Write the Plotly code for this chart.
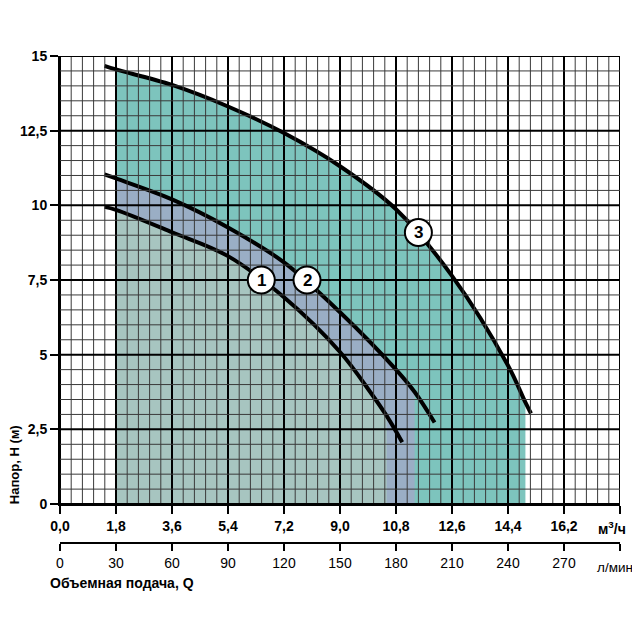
import numpy as np
import plotly.graph_objects as go

# pump curves, Q in m3/h, H in m
q1 = [1.43, 1.8, 3.6, 5.4, 7.2, 9.0, 10.0, 10.5, 11.0]
h1 = [9.95, 9.85, 9.1, 8.3, 6.92, 5.09, 3.71, 2.95, 2.07]

q2 = [1.43, 1.8, 3.6, 5.4, 7.2, 9.0, 10.8, 11.4, 12.04]
h2 = [11.04, 10.9, 10.2, 9.26, 8.09, 6.42, 4.5, 3.75, 2.73]

q3 = [1.43, 1.8, 3.6, 5.4, 7.2, 9.0, 10.8, 12.6, 14.4, 14.96, 15.14]
h3 = [14.67, 14.55, 14.03, 13.31, 12.42, 11.31, 9.87, 7.64, 4.64, 3.4, 3.03]

# curve labels
labels = ["1", "2", "3"]
lab_q = [6.47, 7.94, 11.52]
lab_h = [7.5, 7.5, 9.09]

# axis ticks
x_ticks = [0, 1.8, 3.6, 5.4, 7.2, 9.0, 10.8, 12.6, 14.4, 16.2]
x_text = ["0,0", "1,8", "3,6", "5,4", "7,2", "9,0", "10,8", "12,6", "14,4", "16,2"]
lpm_ticks = [0, 30, 60, 90, 120, 150, 180, 210, 240, 270]
lpm_text = ["0", "30", "60", "90", "120", "150", "180", "210", "240", "270"]
y_ticks = [0, 2.5, 5, 7.5, 10, 12.5, 15]
y_text = ["0", "2,5", "5", "7,5", "10", "12,5", "15"]

fill_colors = ["#7dc4bd", "#9aaec5", "#a7c5c0"]

fig = go.Figure()

# shaded working ranges (from 1.8 up to where the shading stops)
for q, h, col in [(q3, h3, fill_colors[0]), (q2, h2, fill_colors[1]), (q1, h1, fill_colors[2])]:
    fig.add_trace(go.Scatter(
        x=q[1:-1], y=h[1:-1], mode="lines", fill="tozeroy",
        fillcolor=col, line=dict(width=0, shape="spline"),
        hoverinfo="skip", showlegend=False,
    ))

for q, h in [(q1, h1), (q2, h2), (q3, h3)]:
    fig.add_trace(go.Scatter(
        x=q, y=h, mode="lines",
        line=dict(color="black", width=4, shape="spline"),
        showlegend=False,
    ))

# dummy trace so the l/min axis is drawn
fig.add_trace(go.Scatter(x=[0], y=[0], xaxis="x2", yaxis="y", mode="markers",
                         marker=dict(size=1, opacity=0), hoverinfo="skip", showlegend=False))

# grid on top of the shading
for i, xv in enumerate(np.arange(0, 18.001, 0.36)):
    major = i % 5 == 0
    fig.add_shape(type="line", xref="x", yref="y", x0=xv, x1=xv, y0=0, y1=15,
                  layer="above",
                  line=dict(color="black" if major else "#3a3a3a", width=2 if major else 1))
for i, yv in enumerate(np.arange(0, 15.001, 0.5)):
    major = i % 5 == 0
    fig.add_shape(type="line", xref="x", yref="y", x0=0, x1=18, y0=yv, y1=yv,
                  layer="above",
                  line=dict(color="black" if major else "#3a3a3a", width=2 if major else 1))

# numbered circles
for t, xv, yv in zip(labels, lab_q, lab_h):
    fig.add_shape(type="circle", xref="x", yref="y", xsizemode="pixel", ysizemode="pixel",
                  xanchor=xv, yanchor=yv, x0=-13.5, x1=13.5, y0=-13.5, y1=13.5,
                  layer="above", fillcolor="white", line=dict(color="black", width=2))
    fig.add_annotation(x=xv, y=yv, text=f"<b>{t}</b>", showarrow=False,
                       font=dict(size=17, color="black"))

font_main = "Liberation Sans, Arial, sans-serif"

fig.add_annotation(xref="paper", yref="paper", x=-0.082, y=0.160, xanchor="center", yanchor="middle",
                   text="<b>Напор, H (м)</b>", textangle=-90, showarrow=False,
                   font=dict(size=13, color="black"))
fig.add_annotation(xref="paper", yref="paper", x=-0.0214, y=-0.082, xanchor="left", yanchor="middle",
                   text="<b>Объемная подача, Q</b>", showarrow=False,
                   font=dict(size=14, color="black"))
fig.add_annotation(xref="paper", yref="paper", x=0.957, y=0.03, xanchor="left", yanchor="middle",
                   text="<b>м<sup>3</sup>/ч</b>", showarrow=False,
                   font=dict(size=14, color="black"))
fig.add_annotation(xref="paper", yref="paper", x=0.956, y=-0.051, xanchor="left", yanchor="middle",
                   text="л/мин", showarrow=False, font=dict(size=13.5, color="black"))

fig.update_layout(
    width=632, height=632,
    margin=dict(l=50, r=20, t=48, b=97),
    paper_bgcolor="white", plot_bgcolor="white",
    font=dict(family=font_main, color="black"),
    xaxis=dict(range=[0, 18], tickvals=x_ticks, ticktext=x_text, showgrid=False, zeroline=False,
               showline=True, linecolor="black", linewidth=2,
               ticks="outside", ticklen=8, tickwidth=2, tickcolor="black",
               minor=dict(tickvals=[18], ticks="outside", ticklen=8, tickwidth=2,
                          tickcolor="black", showgrid=False),
               tickfont=dict(size=14, weight="bold"), anchor="y"),
    xaxis2=dict(range=[0, 300], tickvals=lpm_ticks, ticktext=lpm_text, overlaying="x",
                anchor="free", position=0, side="bottom", showgrid=False, zeroline=False,
                showline=True, linecolor="black", linewidth=2,
                ticks="outside", ticklen=7, tickwidth=2, tickcolor="black",
                minor=dict(tickvals=[300], ticks="outside", ticklen=7, tickwidth=2,
                           tickcolor="black", showgrid=False),
                tickfont=dict(size=14)),
    yaxis=dict(range=[0, 15], tickvals=y_ticks, ticktext=y_text, showgrid=False, zeroline=False,
               domain=[0.08, 1], showline=True, linecolor="black", linewidth=2,
               ticks="outside", ticklen=8, tickwidth=2, tickcolor="black",
               tickfont=dict(size=14, weight="bold")),
)

fig.write_html("out.html")
